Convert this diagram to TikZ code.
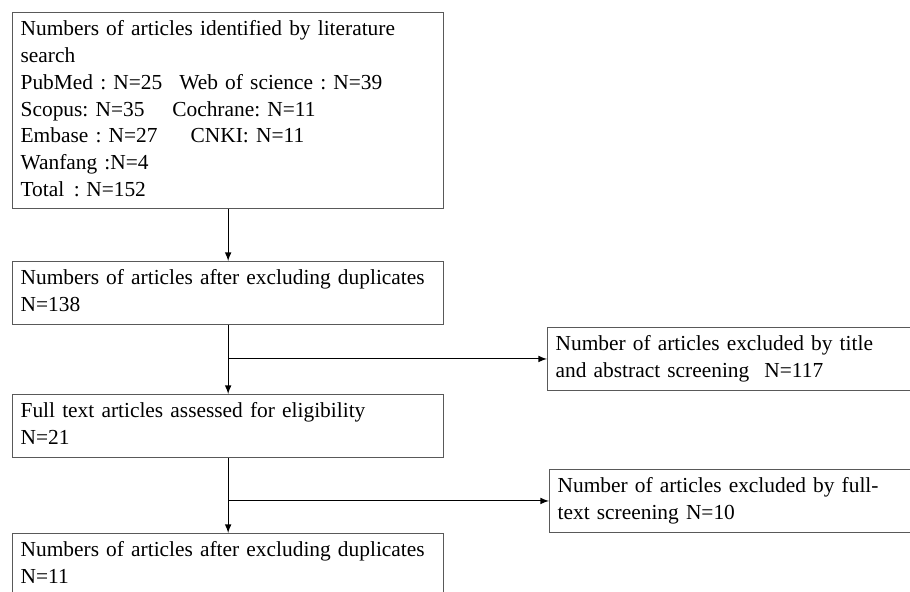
\documentclass[tikz,border=0pt]{standalone}
\usepackage{fontspec}
\setmainfont{Liberation Serif}
\usetikzlibrary{arrows, positioning, calc}
\tikzset{>=latex}
\frenchspacing
\newcommand{\boxfont}{\fontsize{10.7}{13.35}\selectfont\hyphenpenalty=10000}
\tikzset{
  flowbox/.style={draw=black!65, line width=0.65pt, rectangle,
    anchor=north west, align=left, text width=207.5pt,
    inner xsep=4pt, inner ysep=2.3pt, font=\boxfont,
    execute at begin node=\strut, execute at end node=\strut},
  sidebox/.style={flowbox, text width=202pt},
  flowline/.style={line width=0.5pt}
}

\begin{document}
\begin{tikzpicture}[x=0.5pt, y=-0.5pt]
  \useasboundingbox (0,0) rectangle (910,591);
  \clip (0,0) rectangle (910,591);
  % main column
  \node[flowbox] (search) at (12,12) {Numbers of articles identified by literature\\
    search\\
    PubMed : N=25\hspace{0.8em}Web of science : N=39\\
    Scopus: N=35\hspace{1.3em}Cochrane: N=11\\
    Embase : N=27\hspace{1.55em}CNKI: N=11\\
    Wanfang :N=4\\
    Total\hspace{0.45em}:\hspace{0.3em}N=152};
  \node[flowbox] (dedup) at (12,261) {Numbers of articles after excluding duplicates\\ N=138};
  \node[flowbox] (full) at (12,394) {Full text articles assessed for eligibility\\ N=21};
  \node[flowbox] (final) at (12,533) {Numbers of articles after excluding duplicates\\ N=11};
  % excluded records
  \node[sidebox] (titleex) at (547,327) {Number of articles excluded by title\\
    and abstract screening\hspace{0.7em}N=117};
  \node[sidebox] (fullex) at (549,469) {Number of articles excluded by full-\\
    text screening N=10};
  % connectors
  \coordinate (split1) at (dedup.south |- titleex.west);
  \coordinate (split2) at (full.south |- fullex.west);
  \draw[flowline, ->] (search.south) -- (dedup.north);
  \draw[flowline, ->] (dedup.south) -- (full.north);
  \draw[flowline, ->] (split1) -- (titleex.west);
  \draw[flowline, ->] (full.south) -- (final.north);
  \draw[flowline, ->] (split2) -- (fullex.west);
\end{tikzpicture}
\end{document}
